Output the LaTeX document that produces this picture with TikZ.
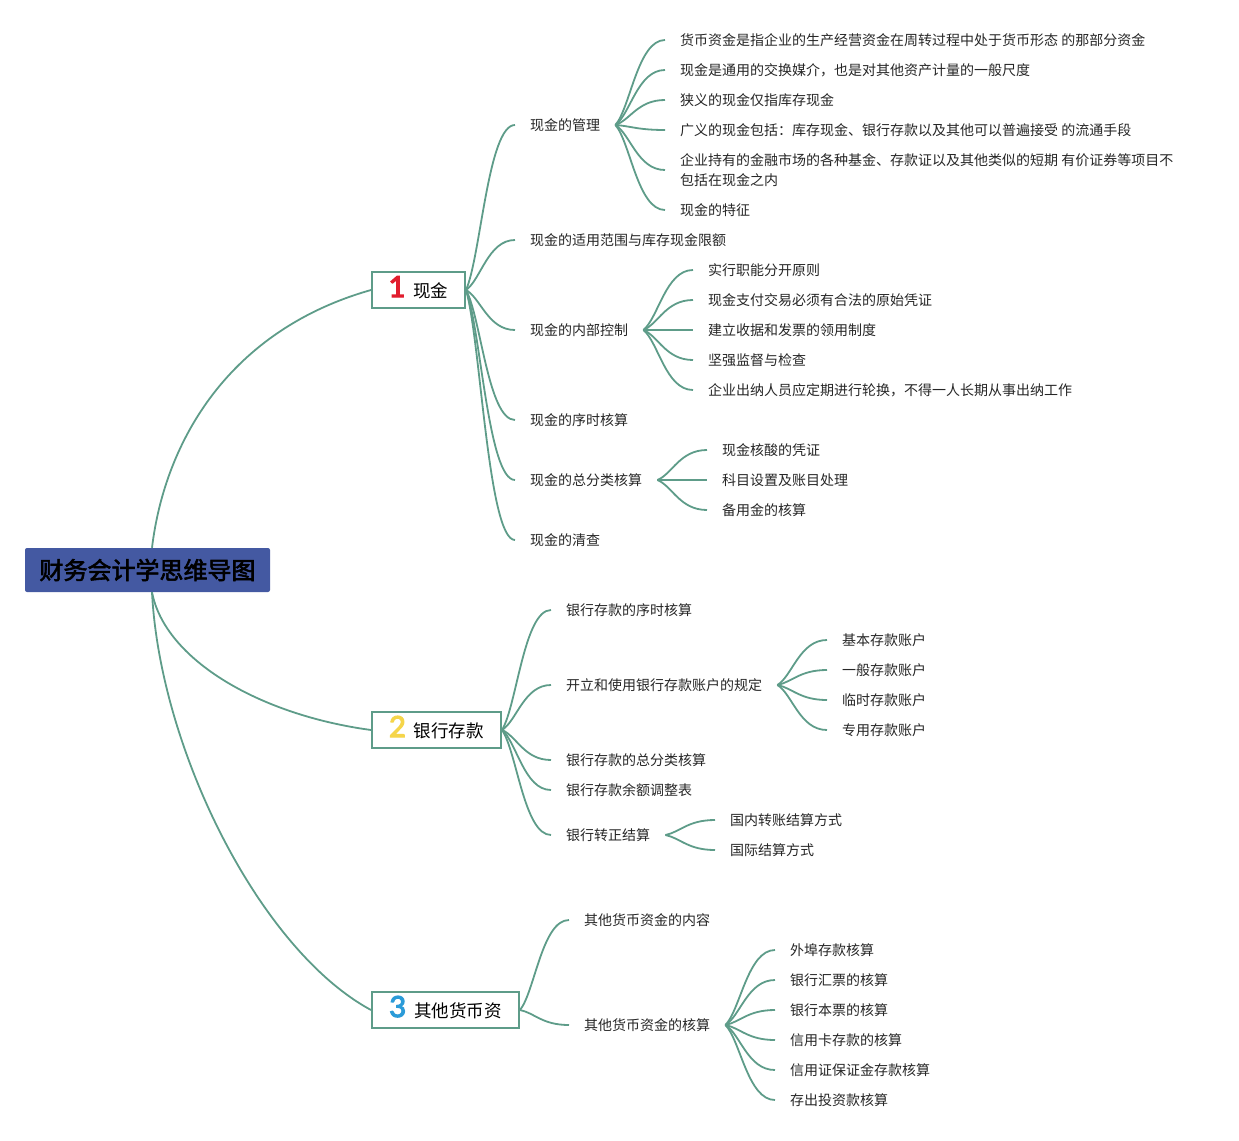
\documentclass[tikz,border=0pt]{standalone}
\usepackage{fontspec}
\setmainfont{Noto Sans CJK SC}
\newfontfamily\rootfont[FakeBold=2.5]{Noto Sans CJK SC}
\newfontfamily\numfont[FakeBold=4]{Lato}
\usetikzlibrary{calc}
\definecolor{lc}{HTML}{5E9C89}
\definecolor{rootblue}{HTML}{4459A2}
\definecolor{txt}{HTML}{262626}
\definecolor{numred}{HTML}{E11D2E}
\definecolor{numyellow}{HTML}{F5D54A}
\definecolor{numblue}{HTML}{2B9BD8}
\tikzset{
 conn/.style={draw=lc, line width=1.8pt},
 leaf/.style={anchor=west, inner xsep=15pt, inner ysep=2pt, text=txt, align=left, font=\fontsize{14}{20}\selectfont},
 topic/.style={anchor=west, draw=lc, line width=2pt, fill=white, minimum height=36pt, inner xsep=0pt, inner ysep=0pt, text height=16.5pt, text depth=2.5pt, text=black, font=\fontsize{17.5}{20}\selectfont},
 rootbox/.style={fill=rootblue, rounded corners=2pt, minimum width=245pt, minimum height=44pt, font=\rootfont\fontsize{24}{28}\selectfont, text=black}
}
\newcommand\numb[2]{{\numfont\fontsize{29}{29}\selectfont\color{#1}#2}}
\newcommand\bedge[2]{\draw[conn] let \p1=(#1.east), \p2=(#2.west) in (\p1) .. controls ({\x1+0.3*(\x2-\x1)},{\y1+0.2*(\y2-\y1)}) and ({\x1+0.45*(\x2-\x1)},{\y2}) .. (\p2);}
\begin{document}
\begin{tikzpicture}[x=1pt,y=-1pt]
\useasboundingbox (0,0) rectangle (1239,1140);
% root
\node[rootbox] (root) at (147.5,570) {财务会计学思维导图};
% level 1
\node[topic, minimum width=93pt] (b1) at (371,290) {\numb{numred}{1}\hspace{8pt}现金};
\node[topic, minimum width=129pt] (b2) at (371,730) {\numb{numyellow}{2}\hspace{8pt}银行存款};
\node[topic, minimum width=147pt] (b3) at (371,1010) {\numb{numblue}{3}\hspace{8pt}其他货币资};
% root connectors
\draw[conn] ([xshift=4.5pt]root.north) .. controls (165,440) and (230,330) .. (b1.west);
\draw[conn] ([xshift=4.5pt]root.south) .. controls (165,660) and (260,715) .. (b2.west);
\draw[conn] ([xshift=4.5pt]root.south) .. controls (160,750) and (260,950) .. (b3.west);
% level 2 under 现金
\node[leaf] (n11) at (515,125) {现金的管理};
\node[leaf] (n12) at (515,240) {现金的适用范围与库存现金限额};
\node[leaf] (n13) at (515,330) {现金的内部控制};
\node[leaf] (n14) at (515,420) {现金的序时核算};
\node[leaf] (n15) at (515,480) {现金的总分类核算};
\node[leaf] (n16) at (515,540) {现金的清查};
% level 3 under 现金的管理
\node[leaf] (n111) at (665,40) {货币资金是指企业的生产经营资金在周转过程中处于货币形态 的那部分资金};
\node[leaf] (n112) at (665,70) {现金是通用的交换媒介，也是对其他资产计量的一般尺度};
\node[leaf] (n113) at (665,100) {狭义的现金仅指库存现金};
\node[leaf] (n114) at (665,130) {广义的现金包括：库存现金、银行存款以及其他可以普遍接受 的流通手段};
\node[leaf] (n115) at (665,170) {企业持有的金融市场的各种基金、存款证以及其他类似的短期 有价证券等项目不\\包括在现金之内};
\node[leaf] (n116) at (665,210) {现金的特征};
% under 现金的内部控制
\node[leaf] (n131) at (693,270) {实行职能分开原则};
\node[leaf] (n132) at (693,300) {现金支付交易必须有合法的原始凭证};
\node[leaf] (n133) at (693,330) {建立收据和发票的领用制度};
\node[leaf] (n134) at (693,360) {坚强监督与检查};
\node[leaf] (n135) at (693,390) {企业出纳人员应定期进行轮换，不得一人长期从事出纳工作};
% under 现金的总分类核算
\node[leaf] (n151) at (707,450) {现金核酸的凭证};
\node[leaf] (n152) at (707,480) {科目设置及账目处理};
\node[leaf] (n153) at (707,510) {备用金的核算};
% level 2 under 银行存款
\node[leaf] (n21) at (551,610) {银行存款的序时核算};
\node[leaf] (n22) at (551,685) {开立和使用银行存款账户的规定};
\node[leaf] (n23) at (551,760) {银行存款的总分类核算};
\node[leaf] (n24) at (551,790) {银行存款余额调整表};
\node[leaf] (n25) at (551,835) {银行转正结算};
\node[leaf] (n221) at (827,640) {基本存款账户};
\node[leaf] (n222) at (827,670) {一般存款账户};
\node[leaf] (n223) at (827,700) {临时存款账户};
\node[leaf] (n224) at (827,730) {专用存款账户};
\node[leaf] (n251) at (715,820) {国内转账结算方式};
\node[leaf] (n252) at (715,850) {国际结算方式};
% level 2 under 其他货币资
\node[leaf] (n31) at (569,920) {其他货币资金的内容};
\node[leaf] (n32) at (569,1025) {其他货币资金的核算};
\node[leaf] (n321) at (775,950) {外埠存款核算};
\node[leaf] (n322) at (775,980) {银行汇票的核算};
\node[leaf] (n323) at (775,1010) {银行本票的核算};
\node[leaf] (n324) at (775,1040) {信用卡存款的核算};
\node[leaf] (n325) at (775,1070) {信用证保证金存款核算};
\node[leaf] (n326) at (775,1100) {存出投资款核算};
% branch connectors
\foreach \a/\b in {b1/n11,b1/n12,b1/n13,b1/n14,b1/n15,b1/n16,
  n11/n111,n11/n112,n11/n113,n11/n114,n11/n115,n11/n116,
  n13/n131,n13/n132,n13/n133,n13/n134,n13/n135,
  n15/n151,n15/n152,n15/n153,
  b2/n21,b2/n22,b2/n23,b2/n24,b2/n25,
  n22/n221,n22/n222,n22/n223,n22/n224,
  n25/n251,n25/n252,
  b3/n31,b3/n32,
  n32/n321,n32/n322,n32/n323,n32/n324,n32/n325,n32/n326}
  {\bedge{\a}{\b}}
\end{tikzpicture}
\end{document}
